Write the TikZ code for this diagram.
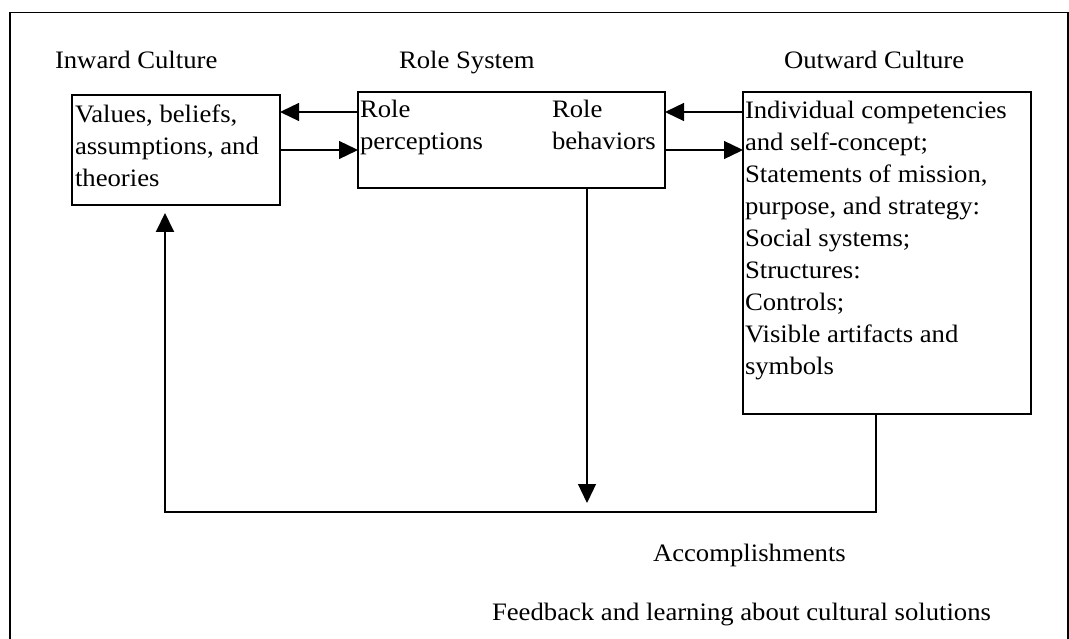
\documentclass[tikz,border=0pt]{standalone}
\usepackage{fontspec}
\setmainfont{Liberation Serif}
\usetikzlibrary{arrows.meta}
\tikzset{
  txt/.style={inner sep=0pt, outer sep=0pt, align=left,
    font=\fontsize{26.7}{34}\selectfont, yscale=0.94, transform shape, anchor=north west},
  lbl/.style={inner sep=0pt, outer sep=0pt,
    font=\fontsize{26.7}{34}\selectfont, yscale=0.94, transform shape, anchor=base west},
  box/.style={draw, line width=1.8pt, inner sep=0pt, outer sep=0pt, anchor=north west},
  conn/.style={line width=1.3pt, -{Triangle[length=19pt,width=18pt]}},
  loopline/.style={line width=2pt, -{Triangle[length=19pt,width=18pt]}},
  frame/.style={line width=1.8pt},
}
\begin{document}
\begin{tikzpicture}[x=1pt,y=1pt]
\useasboundingbox (0,0) rectangle (1069,-639);
\draw[frame] (10,-639) -- (10,-12.5) -- (1068,-12.5) -- (1068,-639);

% headings
\node[lbl] (h1) at (55,-68.5) {Inward Culture};
\node[lbl] (h2) at (399,-68.5) {Role System};
\node[lbl] (h3) at (784,-68.5) {Outward Culture};

% boxes
\node[box, minimum width=208pt, minimum height=110pt] (b1) at (72,-95) {};
\node[box, minimum width=307pt, minimum height=96pt] (b2) at (358,-92) {};
\node[box, minimum width=288pt, minimum height=322pt] (b3) at (743,-92) {};

% box texts
\node[txt] (t1) at (75,-105) {Values, beliefs,\\assumptions, and\\theories};
\node[txt] (t2a) at (360,-100) {Role\\perceptions};
\node[txt] (t2b) at (552,-100) {Role\\behaviors};
\node[txt] (t3) at (745,-101) {Individual competencies\\and self-concept;\\Statements of mission,\\purpose, and strategy:\\Social systems;\\Structures:\\Controls;\\Visible artifacts and\\symbols};

% horizontal connectors
\coordinate (yA) at (0,-112);
\coordinate (yB) at (0,-150);
\draw[conn] (b2.west |- yA) -- (b1.east |- yA);
\draw[conn] (b1.east |- yB) -- (b2.west |- yB);
\draw[conn] (b3.west |- yA) -- (b2.east |- yA);
\draw[conn] (b2.east |- yB) -- (b3.west |- yB);

% down arrow to accomplishments
\coordinate (acc) at (587,-503);
\draw[conn] (b2.south -| acc) -- (acc);

% feedback loop
\coordinate (lr) at (876,-512);
\coordinate (ll) at (165,-512);
\draw[loopline, shorten >=8pt] (b3.south -| lr) -- (lr) -- (ll) -- (b1.south -| ll);

% bottom labels
\node[lbl] (acl) at (653,-561.5) {Accomplishments};
\node[lbl] (fbl) at (492,-620) {Feedback and learning about cultural solutions};
\end{tikzpicture}
\end{document}
